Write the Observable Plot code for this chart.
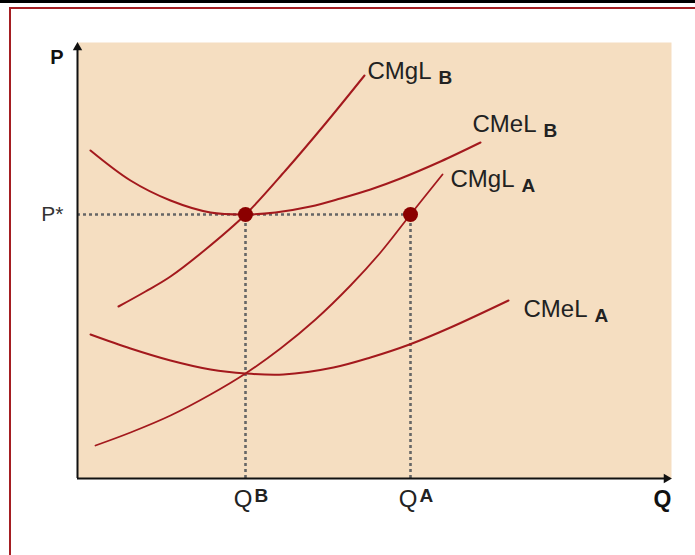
<!DOCTYPE html>
<html>
<head>
<meta charset="utf-8">
<script src="https://cdn.jsdelivr.net/npm/d3@7"></script>
<script src="https://cdn.jsdelivr.net/npm/@observablehq/plot@0.6"></script>
<style>
  html, body { margin: 0; padding: 0; background: #ffffff; }
  #wrap { position: relative; width: 695px; height: 555px; overflow: hidden; font-family: "Liberation Sans", Arial, sans-serif; }
  #topbar { position: absolute; left: 0; top: 0; width: 695px; height: 3px; background: #000; }
  #frame { position: absolute; left: 9px; top: 7px; width: 700px; height: 560px; border-top: 2px solid #a41e22; border-left: 2px solid #a41e22; box-sizing: border-box; pointer-events: none; }
  svg { position: absolute; left: 0; top: 0; }
</style>
</head>
<body>
<div id="wrap"><div id="topbar"></div><div id="frame"></div></div>
<script>
// Quantity (Q) and price (P) readings, in arbitrary units
const Qmax = 594, Pmax = 436;
const QB = 168, QA = 333, Pstar = 264;

const cmglB_q = [41, 68, 93, 128, 168, 208, 248, 287];
const cmglB_p = [172, 187, 202, 229, 264, 308, 355, 403];

const cmelB_q = [13, 53, 93, 133, 168, 198, 233, 263, 293, 323, 363, 403];
const cmelB_p = [328, 298, 278, 266, 264, 266, 272, 280, 289, 300, 317, 336];

const cmglA_q = [18, 53, 93, 133, 168, 203, 238, 273, 303, 333, 365];
const cmglA_p = [33, 46, 63, 84, 105, 130, 159, 193, 226, 264, 304];

const cmelA_q = [13, 53, 93, 133, 168, 206, 256, 293, 332, 373, 431];
const cmelA_p = [144, 130, 118, 109, 105, 104, 111, 121, 134, 151, 178];

const curveNames = ["CMgL", "CMeL", "CMgL", "CMeL"];
const curveSubs  = ["B", "B", "A", "A"];
const labelQ = [290, 395, 373, 446];
const labelP = [400, 347, 292, 162];

const qTickValues = [QB, QA];
const qTickMain = ["Q", "Q"];
const qTickSup = ["B", "A"];

const red = "#a3191d";
const dotRed = "#8b0000";
const beige = "#f5dec1";
const font = "Liberation Sans, Arial, sans-serif";

const pairs = (q, p) => q.map((v, i) => [v, p[i]]);
const idx = a => a.map((_, i) => i);

const chart = Plot.plot({
  width: 695,
  height: 555,
  marginLeft: 77,
  marginRight: 24,
  marginTop: 42,
  marginBottom: 77,
  x: { domain: [0, Qmax], axis: null },
  y: { domain: [0, Pmax], axis: null },
  style: { background: "transparent", fontFamily: font, overflow: "visible" },
  marks: [
    Plot.frame({ fill: beige, stroke: null }),
    // dotted guides
    Plot.ruleY([Pstar], { x1: 0, x2: QA, stroke: "#666", strokeWidth: 2.6, strokeDasharray: "3,3" }),
    Plot.ruleX([QB, QA], { y1: 0, y2: Pstar, stroke: "#666", strokeWidth: 2.6, strokeDasharray: "3,3" }),
    // curves
    Plot.line(pairs(cmglB_q, cmglB_p), { curve: "catmull-rom", stroke: red, strokeWidth: 2 }),
    Plot.line(pairs(cmelB_q, cmelB_p), { curve: "catmull-rom", stroke: red, strokeWidth: 2 }),
    Plot.line(pairs(cmglA_q, cmglA_p), { curve: "catmull-rom", stroke: red, strokeWidth: 1.8 }),
    Plot.line(pairs(cmelA_q, cmelA_p), { curve: "catmull-rom", stroke: red, strokeWidth: 2 }),
    // equilibrium points
    Plot.dot([[QB, Pstar], [QA, Pstar]], { r: 7.5, fill: dotRed, stroke: null }),
    // axes
    Plot.ruleX([0], { y1: 0, y2: Pmax - 4, stroke: "#111", strokeWidth: 2 }),
    Plot.ruleY([0], { x1: 0, x2: Qmax - 4, stroke: "#111", strokeWidth: 2 }),
    Plot.dot([[0, Pmax]], { symbol: "triangle", r: 3.5, fill: "#111", stroke: null, dy: 5 }),
    Plot.dot([[Qmax, 0]], { symbol: "triangle", r: 3.5, fill: "#111", stroke: null, rotate: 90, dx: -5 }),
    // axis titles
    Plot.text(["P"], { x: 0, y: Pmax, text: d => d, textAnchor: "end", lineAnchor: "bottom", dx: -14, dy: 21, fontSize: 20, fontWeight: "bold", fill: "#111" }),
    Plot.text(["Q"], { x: Qmax, y: 0, text: d => d, textAnchor: "end", lineAnchor: "bottom", dx: 0, dy: 28, fontSize: 23, fontWeight: "bold", fill: "#111" }),
    Plot.text(["P*"], { x: 0, y: Pstar, text: d => d, textAnchor: "end", lineAnchor: "middle", dx: -14, fontSize: 21, fill: "#333" }),
    // Q tick labels
    Plot.text(idx(qTickValues), { x: i => qTickValues[i], y: 0, text: i => qTickMain[i], textAnchor: "end", lineAnchor: "bottom", dx: 7, dy: 28, fontSize: 24, fill: "#222" }),
    Plot.text(idx(qTickValues), { x: i => qTickValues[i], y: 0, text: i => qTickSup[i], textAnchor: "start", lineAnchor: "bottom", dx: 9, dy: 23, fontSize: 19, fontWeight: "bold", fill: "#222" }),
    // curve labels
    Plot.text(idx(curveNames), { x: i => labelQ[i], y: i => labelP[i], text: i => curveNames[i], textAnchor: "start", lineAnchor: "bottom", fontSize: 24, fill: "#222" }),
    Plot.text(idx(curveNames), { x: i => labelQ[i], y: i => labelP[i], text: i => curveSubs[i], textAnchor: "start", lineAnchor: "bottom", dx: 71, dy: 5, fontSize: 19, fontWeight: "bold", fill: "#222" })
  ]
});
document.getElementById("wrap").prepend(chart);
</script>
</body>
</html>
